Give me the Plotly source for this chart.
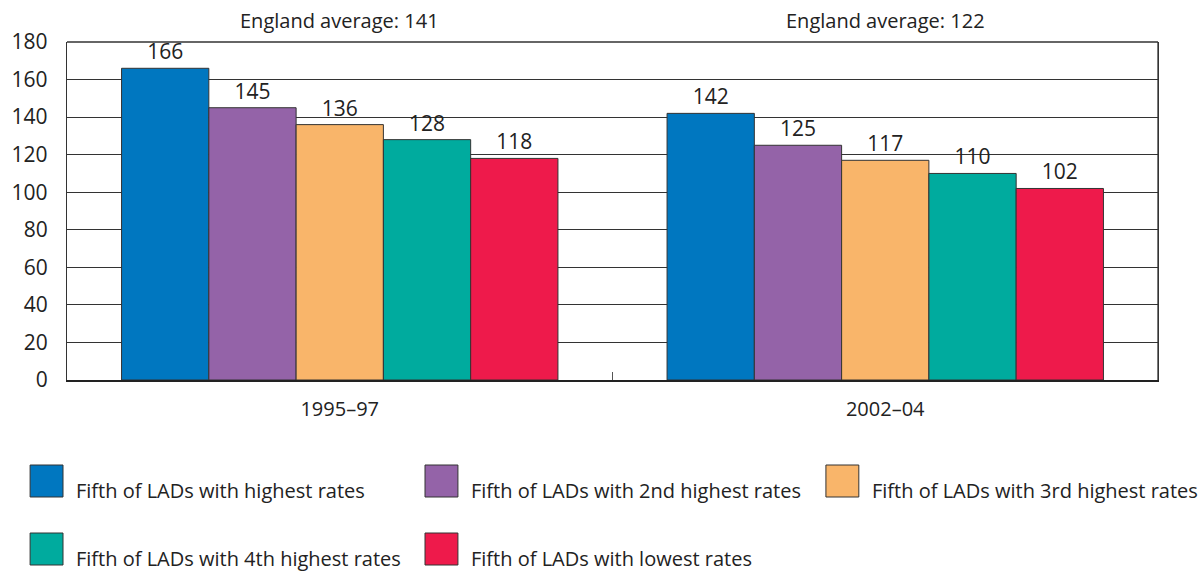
import plotly.graph_objects as go

periods = ["1995–97", "2002–04"]
series_names = [
    "Fifth of LADs with highest rates",
    "Fifth of LADs with 2nd highest rates",
    "Fifth of LADs with 3rd highest rates",
    "Fifth of LADs with 4th highest rates",
    "Fifth of LADs with lowest rates",
]
highest = [166, 142]
second = [145, 125]
third = [136, 117]
fourth = [128, 110]
lowest = [118, 102]
england_avg = [141, 122]
y_ticks = [0, 20, 40, 60, 80, 100, 120, 140, 160, 180]

colors = ["#0077C0", "#9463A8", "#F9B56A", "#00AB9E", "#EE1A4B"]
series_values = [highest, second, third, fourth, lowest]

FONT = "Open Sans"
TXT = "#222222"
W, H = 1198, 571
L, R, T, B = 64, 40, 42, 191

fig = go.Figure()
for name, vals, col in zip(series_names, series_values, colors):
    fig.add_trace(go.Bar(
        x=periods, y=vals, name=name,
        marker=dict(color=col, line=dict(color="#333333", width=1)),
        text=[str(v) for v in vals], textposition="outside",
        textfont=dict(family=FONT, size=21, color=TXT),
        cliponaxis=False, showlegend=False,
    ))

annotations = []
for p, avg in zip(periods, england_avg):
    annotations.append(dict(
        x=p, xref="x", y=1.0, yref="paper", yshift=6,
        text=f"England average: {avg}", showarrow=False,
        yanchor="bottom", font=dict(family=FONT, size=20, color=TXT),
    ))

# custom legend
pw, ph = W - L - R, H - T - B
def px_to_paper_x(px):
    return (px - L) / pw
def px_to_paper_y(py):
    return (H - B - py) / ph

legend_pos = [(27, 465), (423, 465), (825, 465), (27, 533), (423, 533)]
shapes = []
for (sx, sy), name, col in zip(legend_pos, series_names, colors):
    shapes.append(dict(
        type="rect", xref="paper", yref="paper",
        x0=px_to_paper_x(sx), x1=px_to_paper_x(sx + 33),
        y0=px_to_paper_y(sy + 32), y1=px_to_paper_y(sy),
        fillcolor=col, line=dict(color="#333333", width=1),
    ))
    annotations.append(dict(
        x=px_to_paper_x(sx + 44), y=px_to_paper_y(sy + 25),
        xref="paper", yref="paper", text=name, showarrow=False,
        xanchor="left", yanchor="middle",
        font=dict(family=FONT, size=20, color=TXT),
    ))

fig.update_layout(
    width=W, height=H,
    margin=dict(l=L, r=R, t=T, b=B),
    paper_bgcolor="white", plot_bgcolor="white",
    barmode="group", bargap=0.2, bargroupgap=0,
    annotations=annotations, shapes=shapes,
    font=dict(family=FONT, size=20, color=TXT),
    xaxis=dict(
        showline=True, linecolor="#222222", linewidth=2, mirror=False,
        tickson="boundaries", ticks="inside", ticklen=8, tickcolor="#555555",
        tickfont=dict(family=FONT, size=20, color=TXT),
        ticklabelstandoff=10,
        showgrid=False,
    ),
    yaxis=dict(
        range=[0, 180], tickvals=y_ticks,
        showgrid=True, gridcolor="#333333", gridwidth=1.3,
        showline=True, linecolor="#333333", linewidth=1.3, mirror=True,
        ticks="", tickfont=dict(family=FONT, size=21, color=TXT),
        ticklabelstandoff=14,
        zeroline=False,
    ),
)
fig.add_shape(type="line", xref="paper", yref="paper", x0=1, x1=1, y0=0, y1=1,
              line=dict(color="#333333", width=1.3))
fig.add_shape(type="line", xref="paper", yref="paper", x0=0, x1=1, y0=1, y1=1,
              line=dict(color="#333333", width=1.3))

fig.write_html(
    "out.html",
    config={"displayModeBar": False},
    post_script="document.body.style.margin='0';document.body.style.overflow='hidden';",
)
